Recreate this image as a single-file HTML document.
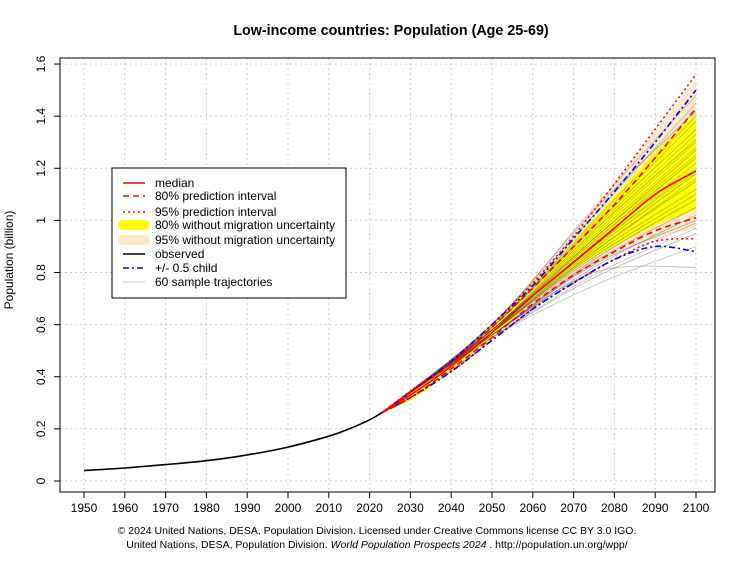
<!DOCTYPE html>
<html><head><meta charset="utf-8"><style>
body{margin:0;background:#fff;font-family:"Liberation Sans",sans-serif}
svg text{font-family:"Liberation Sans",sans-serif}
</style></head><body>
<svg id="c" width="755" height="566" xmlns="http://www.w3.org/2000/svg">
<text x="391" y="35" text-anchor="middle" font-weight="bold" font-size="14.3">Low-income countries: Population (Age 25-69)</text>
<text transform="translate(13,260) rotate(-90)" text-anchor="middle" font-size="12">Population (billion)</text>
<text x="377" y="534" text-anchor="middle" font-size="10.5">© 2024 United Nations, DESA, Population Division. Licensed under Creative Commons license CC BY 3.0 IGO.</text>
<text x="377" y="548" text-anchor="middle" font-size="10.5">United Nations, DESA, Population Division. <tspan font-style="italic">World Population Prospects 2024</tspan> . http://population.un.org/wpp/</text>
<g id="grid"></g><g id="bands"></g><g id="traj"></g><g id="lines"></g><g id="axes"></g>
<rect x="60" y="58" width="655" height="434" fill="none" stroke="#000"/>
<g>
<rect x="112" y="168" width="234" height="130" fill="#fff" stroke="#000"/>
<g font-size="12">
<line x1="123" x2="145" y1="183" y2="183" stroke="red" stroke-width="1.5"/><text x="155" y="187">median</text>
<line x1="123" x2="145" y1="196" y2="196" stroke="red" stroke-width="1.5" stroke-dasharray="6,4"/><text x="155" y="200">80% prediction interval</text>
<line x1="123" x2="145" y1="212" y2="212" stroke="red" stroke-width="1.5" stroke-dasharray="2,3"/><text x="155" y="216">95% prediction interval</text>
<line x1="123" x2="145" y1="225" y2="225" stroke="yellow" stroke-width="10" stroke-linecap="round"/><text x="155" y="229">80% without migration uncertainty</text>
<line x1="123" x2="145" y1="240" y2="240" stroke="#fde8c8" stroke-width="10" stroke-linecap="round"/><text x="155" y="244">95% without migration uncertainty</text>
<line x1="123" x2="145" y1="254" y2="254" stroke="#000" stroke-width="1.5"/><text x="155" y="258">observed</text>
<line x1="123" x2="145" y1="268" y2="268" stroke="blue" stroke-width="1.5" stroke-dasharray="6,3,2,3"/><text x="155" y="272">+/- 0.5 child</text>
<line x1="123" x2="145" y1="282" y2="282" stroke="#ccc" stroke-width="1"/><text x="155" y="286">60 sample trajectories</text>
</g></g>
</svg>
<script>
const obsYears=[1950,1960,1970,1980,1990,2000,2010,2015,2020,2023];
const obsVals=[0.040,0.050,0.063,0.078,0.100,0.130,0.172,0.200,0.235,0.262];
const projYears=[2023,2030,2040,2050,2060,2070,2080,2090,2100];
const median=[0.262,0.33,0.44,0.57,0.71,0.84,0.97,1.10,1.19];
const pi80Low=[0.262,0.32,0.43,0.55,0.68,0.79,0.88,0.96,1.01];
const pi80High=[0.262,0.34,0.45,0.59,0.74,0.90,1.06,1.24,1.43];
const pi95Low=[0.262,0.32,0.42,0.54,0.66,0.76,0.85,0.92,0.93];
const pi95High=[0.262,0.345,0.46,0.60,0.76,0.94,1.14,1.35,1.56];
const childLow=[0.262,0.32,0.42,0.54,0.66,0.76,0.85,0.90,0.88];
const childHigh=[0.262,0.34,0.46,0.60,0.75,0.93,1.11,1.30,1.50];
const y80Low=[0.262,0.31,0.42,0.55,0.69,0.81,0.90,0.98,1.04];
const y80High=[0.262,0.34,0.46,0.60,0.75,0.92,1.09,1.26,1.41];
const y95Low=[0.262,0.31,0.42,0.54,0.67,0.78,0.87,0.93,0.97];
const y95High=[0.262,0.345,0.46,0.61,0.77,0.95,1.14,1.34,1.54];
const trajYears=[2023,2050,2075,2100];
const trajMid=[0.57,0.56,0.58,0.55,0.59,0.57,0.60,0.56,0.58,0.57,0.55,0.59,0.58,0.56,0.60,0.57,0.58,0.56,0.59,0.57,0.55,0.58,0.57,0.56,0.59,0.58,0.57,0.60,0.56,0.58];
const traj2075=[0.90,0.82,0.95,0.78,1.00,0.88,1.05,0.80,0.93,0.86,0.75,0.98,0.91,0.84,1.02,0.89,0.94,0.83,0.97,0.87,0.79,0.92,0.90,0.85,0.99,0.93,0.88,1.04,0.81,0.96];
const traj2100=[1.20,1.02,1.30,0.95,1.40,1.15,1.48,0.82,1.25,1.10,0.90,1.35,1.22,1.05,1.45,1.18,1.28,1.00,1.33,1.12,0.97,1.24,1.19,1.08,1.38,1.27,1.16,1.42,0.99,1.31];
const xTicks=[1950,1960,1970,1980,1990,2000,2010,2020,2030,2040,2050,2060,2070,2080,2090,2100];
const yTicks=[0,0.2,0.4,0.6,0.8,1,1.2,1.4,1.6];
const yTickLabels=["0","0.2","0.4","0.6","0.8","1","1.2","1.4","1.6"];
const NS="http://www.w3.org/2000/svg";
const X=y=>84+(y-1950)*4.08, Y=v=>481-v*260.6;
function mk(tag,attrs,parent){const e=document.createElementNS(NS,tag);for(const k in attrs)e.setAttribute(k,attrs[k]);document.getElementById(parent).appendChild(e);return e;}
function smooth(xs,vs,cont){
 const p=xs.map((x,i)=>[X(x),Y(vs[i])]);
 let d=(cont?'L':'M')+p[0][0].toFixed(1)+','+p[0][1].toFixed(1);
 for(let i=0;i<p.length-1;i++){
  const p0=p[Math.max(0,i-1)],p1=p[i],p2=p[i+1],p3=p[Math.min(p.length-1,i+2)];
  const c1=[p1[0]+(p2[0]-p0[0])/6,p1[1]+(p2[1]-p0[1])/6];
  const c2=[p2[0]-(p3[0]-p1[0])/6,p2[1]-(p3[1]-p1[1])/6];
  d+='C'+c1.map(v=>v.toFixed(1)).join(',')+' '+c2.map(v=>v.toFixed(1)).join(',')+' '+p2[0].toFixed(1)+','+p2[1].toFixed(1);
 }
 return d;
}
xTicks.forEach(t=>{
 const g=mk('line',{x1:X(t),x2:X(t),y1:58,y2:492,stroke:'#ccc','stroke-dasharray':'2,3'},'grid');
 
 
 const tk=mk('line',{x1:X(t),x2:X(t),y1:492,y2:498,stroke:'#000'},'axes');
 
 
 const tx=mk('text',{x:X(t),y:512,'text-anchor':'middle','font-size':12},'axes');tx.textContent=t;
 
 
});
yTicks.forEach((t,i)=>{
 const g=mk('line',{x1:60,x2:715,y1:Y(t),y2:Y(t),stroke:'#ccc','stroke-dasharray':'2,3'},'grid');
 
 
 const tk=mk('line',{x1:54,x2:60,y1:Y(t),y2:Y(t),stroke:'#000'},'axes');
 
 
 const tx=mk('text',{transform:`translate(45,${Y(t)}) rotate(-90)`,'text-anchor':'middle','font-size':12},'axes');tx.textContent=yTickLabels[i];
 
 
});
function band(lo,hi,fill,name){
 const rx=projYears.slice().reverse(), rl=lo.slice().reverse();
 const d=smooth(projYears,hi,false)+smooth(rx,rl,true)+'Z';
 const p=mk('path',{d:d,fill:fill},'bands');
 
 
}
band(y95Low,y95High,'#fde8c8','band-95-no-migration');
band(y80Low,y80High,'#ffff00','band-80-no-migration');
traj2100.forEach((v,i)=>{
 const vals=[0.262,trajMid[i],traj2075[i],v];
 const p=mk('path',{d:smooth(trajYears,vals,false),fill:'none',stroke:i%2?'rgba(0,0,0,0.3)':'rgba(120,120,120,0.45)','stroke-width':0.8},'traj');
 
 
});
function ln(xs,vs,col,dash,name){
 const p=mk('path',{d:smooth(xs,vs,false),fill:'none',stroke:col,'stroke-width':1.6,'stroke-dasharray':dash},'lines');
 
 
}
ln(obsYears,obsVals,'#000','none','observed-line');
ln(projYears,pi95Low,'red','2,3','pi95-lower');
ln(projYears,pi95High,'red','2,3','pi95-upper');
ln(projYears,childLow,'blue','6,3,2,3','child-lower');
ln(projYears,childHigh,'blue','6,3,2,3','child-upper');
ln(projYears,pi80Low,'red','6,4','pi80-lower');
ln(projYears,pi80High,'red','6,4','pi80-upper');
ln(projYears,median,'red','none','median-line');
</script>
</body></html>
